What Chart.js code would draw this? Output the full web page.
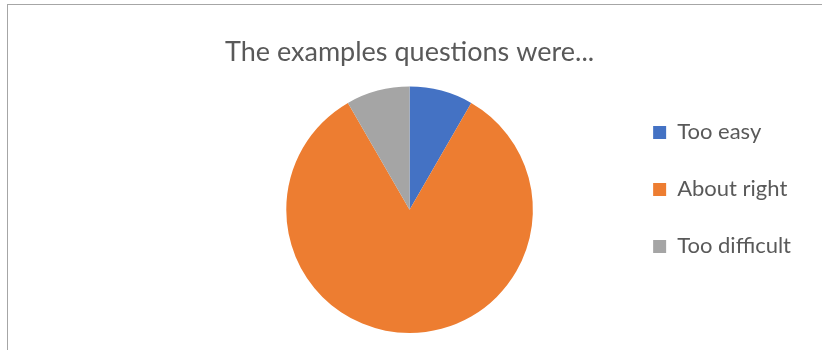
<!DOCTYPE html>
<html>
<head>
<meta charset="utf-8">
<script src="https://cdn.jsdelivr.net/npm/chart.js@4/dist/chart.umd.min.js"></script>
<style>
    body { margin: 0; background: #fff; }
    #wrap { position: relative; width: 822px; height: 350px; overflow: hidden; }
    #frame { position: absolute; left: 7px; top: 4px; right: -2px; bottom: -2px;
             border-left: 1px solid #a6a6a6; border-top: 1px solid #a6a6a6; pointer-events: none; }
</style>
</head>
<body>
<div id="wrap">
    <canvas id="pieChart" width="822" height="350"></canvas>
    <div id="frame"></div>
</div>
<script>
const labels = ['Too easy', 'About right', 'Too difficult'];
const answers = [1, 10, 1];
const colors = ['#4472C4', '#ED7D31', '#A5A5A5'];

const ctx = document.getElementById('pieChart').getContext('2d');
let pieChart = new Chart(ctx, {
    type: 'pie',
    data: {
        labels: labels,
        datasets: [{
            data: answers,
            backgroundColor: colors,
            borderWidth: 0,
        }]
    },
    options: {
        responsive: false,
        animation: false,
        layout: {
            padding: {left: 201, right: 21, top: 0, bottom: 17}
        },
        plugins: {
            title: {
                display: true,
                fullSize: false,
                text: 'The examples questions were...',
                color: '#595959',
                font: {family: 'Lato', size: 27, weight: 'normal', lineHeight: 1.2},
                padding: {top: 36, bottom: 18}
            },
            legend: {
                position: 'right',
                align: 'start',
                fullSize: false,
                labels: {
                    color: '#595959',
                    font: {family: 'Lato', size: 22},
                    boxWidth: 13,
                    boxHeight: 13,
                    padding: 35
                }
            },
            tooltip: {enabled: false}
        }
    }
});
</script>
</body>
</html>
